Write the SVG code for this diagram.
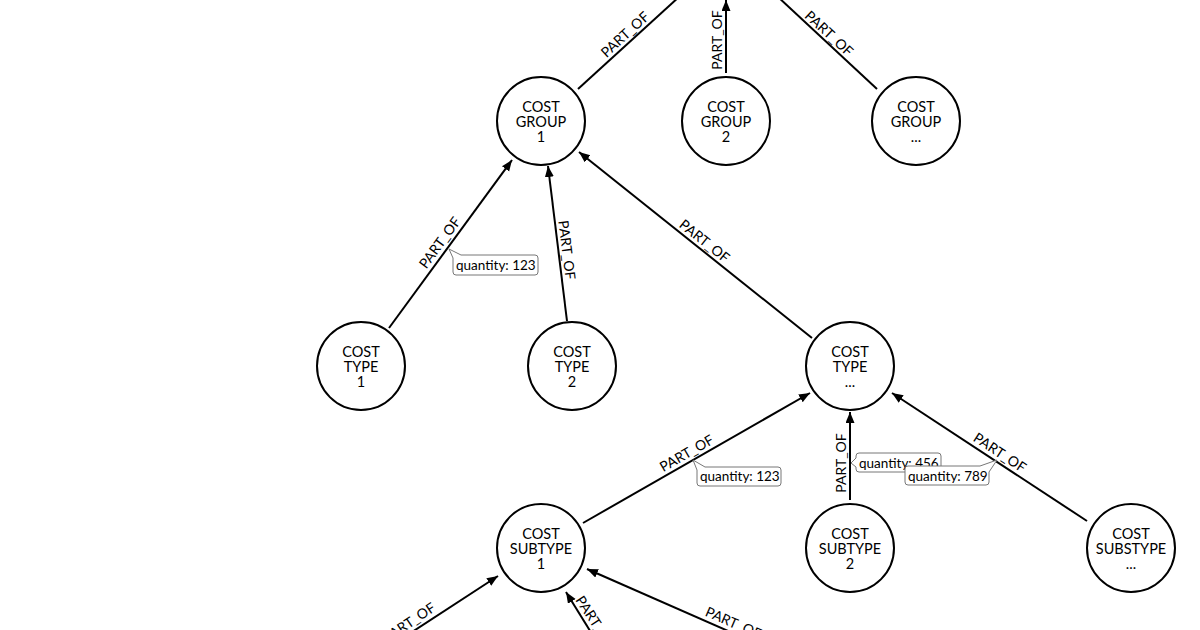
<svg xmlns="http://www.w3.org/2000/svg" width="1200" height="630" viewBox="0 0 1200 630">
<style>
.bg{fill:#fff}
.node circle{fill:#fff;stroke:#000;stroke-width:2}
.node text{font-family:Lato,"Open Sans",sans-serif;font-size:14.5px;fill:#000;text-anchor:middle}
.edge line{stroke:#000;stroke-width:2}
.arrow line{marker-end:url(#ah)}
.lbl{font-family:Lato,"Open Sans",sans-serif;font-size:14px;fill:#000;text-anchor:middle}
.qbox{fill:#fff;stroke:#777;stroke-width:1}
.qtxt{font-family:Lato,"Open Sans",sans-serif;font-size:13.5px;fill:#000}
</style>
<defs>
<marker id="ah" markerUnits="userSpaceOnUse" markerWidth="12" markerHeight="10" refX="11" refY="4.5" orient="auto">
<path d="M0,0 L11,4.5 L0,9 z" fill="#000"/>
</marker>
</defs>
<rect class="bg" x="0" y="0" width="1200" height="630"/>
<g id="connectors">
<g class="edge" id="e1"><line x1="578" y1="89" x2="680" y2="-4"/><text class="lbl" transform="translate(631,41) rotate(-42.5)" y="-4">PART_OF</text></g>
<g class="edge arrow" id="e2"><line x1="726" y1="73" x2="726" y2="0"/><text class="lbl" transform="translate(726,40) rotate(-90)" y="-4">PART_OF</text></g>
<g class="edge" id="e3"><line x1="877" y1="89" x2="777" y2="-4"/><text class="lbl" transform="translate(823,40) rotate(42.5)" y="-4">PART_OF</text></g>
<g class="edge arrow" id="e4"><line x1="389" y1="328" x2="512" y2="160"/><text class="lbl" transform="translate(447,248) rotate(-53.8)" y="-4">PART_OF</text></g>
<g class="edge arrow" id="e5"><line x1="567" y1="321" x2="548" y2="166"/><text class="lbl" transform="translate(558,251) rotate(83)" y="-4">PART_OF</text></g>
<g class="edge arrow" id="e6"><line x1="812" y1="338" x2="579" y2="152"/><text class="lbl" transform="translate(699,248) rotate(38.6)" y="-4">PART_OF</text></g>
<g class="edge arrow" id="e7"><line x1="583" y1="523" x2="810" y2="393"/><text class="lbl" transform="translate(691,461) rotate(-29.8)" y="-4">PART_OF</text></g>
<g class="edge arrow" id="e8"><line x1="850" y1="500" x2="850" y2="412"/><text class="lbl" transform="translate(850,463) rotate(-90)" y="-4">PART_OF</text></g>
<g class="edge arrow" id="e9"><line x1="1087" y1="521" x2="892" y2="393"/><text class="lbl" transform="translate(995,460) rotate(33.3)" y="-4">PART_OF</text></g>
<g class="edge arrow" id="e10"><line x1="409" y1="634" x2="498" y2="576"/><text class="lbl" transform="translate(414,630) rotate(-33.7)" y="-4">PART_OF</text></g>
<g class="edge arrow" id="e11"><line x1="592" y1="634" x2="566" y2="592"/><text class="lbl" transform="translate(588,627) rotate(56.7)" y="-4">PART_OF</text></g>
<g class="edge arrow" id="e12"><line x1="735" y1="634" x2="587" y2="569"/><text class="lbl" transform="translate(730,631) rotate(23.5)" y="-4">PART_OF</text></g>
<g id="q1"><path class="qbox" d="M449,249 L461,255 H535 Q538,255 538,258 V272 Q538,275 535,275 H456 Q453,275 453,272 V258 Z"/><text class="qtxt" x="456" y="270">quantity: 123</text></g>
<g id="q2"><path class="qbox" d="M693,460 L705,467 H778 Q781,467 781,470 V483 Q781,486 778,486 H700 Q697,486 697,483 V470 Z"/><text class="qtxt" x="700" y="481">quantity: 123</text></g>
<g id="q3"><path class="qbox" d="M851,463 L856,458 V456 Q856,453 859,453 H938 Q941,453 941,456 V469 Q941,472 938,472 H859 Q856,472 856,469 V467 Z"/><text class="qtxt" x="859" y="468">quantity: 456</text></g>
<g id="q4"><path class="qbox" d="M997,460 L989,472 V482 Q989,485 986,485 H908 Q905,485 905,482 V469 Q905,466 908,466 H980 Z"/><text class="qtxt" x="908" y="481">quantity: 789</text></g>
</g>
<g id="cg1" class="node"><circle cx="541" cy="121" r="44"/><text x="541" y="112">COST</text><text x="541" y="127">GROUP</text><text x="541" y="142">1</text></g>
<g id="cg2" class="node"><circle cx="726" cy="121" r="44"/><text x="726" y="112">COST</text><text x="726" y="127">GROUP</text><text x="726" y="142">2</text></g>
<g id="cg3" class="node"><circle cx="916" cy="121" r="44"/><text x="916" y="112">COST</text><text x="916" y="127">GROUP</text><text x="916" y="142">...</text></g>
<g id="ct1" class="node"><circle cx="361" cy="366" r="44"/><text x="361" y="357">COST</text><text x="361" y="372">TYPE</text><text x="361" y="387">1</text></g>
<g id="ct2" class="node"><circle cx="572" cy="366" r="44"/><text x="572" y="357">COST</text><text x="572" y="372">TYPE</text><text x="572" y="387">2</text></g>
<g id="ct3" class="node"><circle cx="850" cy="366" r="44"/><text x="850" y="357">COST</text><text x="850" y="372">TYPE</text><text x="850" y="387">...</text></g>
<g id="cs1" class="node"><circle cx="541" cy="548" r="44"/><text x="541" y="539">COST</text><text x="541" y="554">SUBTYPE</text><text x="541" y="569">1</text></g>
<g id="cs2" class="node"><circle cx="850" cy="548" r="44"/><text x="850" y="539">COST</text><text x="850" y="554">SUBTYPE</text><text x="850" y="569">2</text></g>
<g id="cs3" class="node"><circle cx="1131" cy="548" r="44"/><text x="1131" y="539">COST</text><text x="1131" y="554">SUBSTYPE</text><text x="1131" y="569">...</text></g>
</svg>
